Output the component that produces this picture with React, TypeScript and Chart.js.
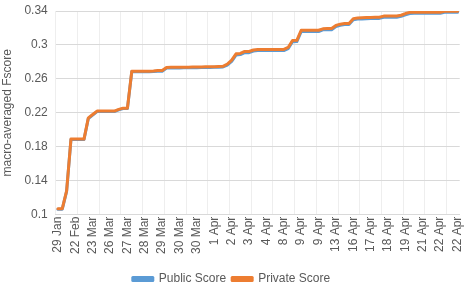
import React, { useEffect, useRef } from "react";
import { Chart, registerables } from "chart.js";

Chart.register(...registerables);

const categories: string[] = [
  "29 Jan", "2 Feb", "10 Feb", "18 Feb", "22 Feb", "5 Mar", "15 Mar", "22 Mar", "23 Mar", "24 Mar",
  "25 Mar", "25 Mar", "26 Mar", "26 Mar", "26 Mar", "27 Mar", "27 Mar", "27 Mar", "28 Mar", "28 Mar",
  "28 Mar", "28 Mar", "29 Mar", "29 Mar", "29 Mar", "29 Mar", "29 Mar", "30 Mar", "30 Mar", "30 Mar",
  "30 Mar", "30 Mar", "30 Mar", "31 Mar", "31 Mar", "1 Apr", "1 Apr", "1 Apr", "2 Apr", "2 Apr",
  "2 Apr", "2 Apr", "3 Apr", "3 Apr", "3 Apr", "3 Apr", "4 Apr", "4 Apr", "4 Apr", "5 Apr",
  "6 Apr", "7 Apr", "8 Apr", "8 Apr", "8 Apr", "9 Apr", "9 Apr", "9 Apr", "9 Apr", "9 Apr",
  "9 Apr", "10 Apr", "11 Apr", "12 Apr", "13 Apr", "14 Apr", "15 Apr", "16 Apr", "16 Apr", "16 Apr",
  "17 Apr", "17 Apr", "17 Apr", "17 Apr", "18 Apr", "18 Apr", "18 Apr", "18 Apr", "19 Apr", "19 Apr",
  "19 Apr", "20 Apr", "20 Apr", "21 Apr", "21 Apr", "21 Apr", "22 Apr", "22 Apr", "22 Apr", "22 Apr",
  "22 Apr", "22 Apr", "22 Apr",
];

const publicScore: number[] = [
  0.1065, 0.1065, 0.1275, 0.1885, 0.1885, 0.1885, 0.1885, 0.2133, 0.2173, 0.2215,
  0.2215, 0.2215, 0.2215, 0.2215, 0.2235, 0.2250, 0.2250, 0.2683, 0.2683, 0.2683,
  0.2683, 0.2683, 0.2686, 0.2690, 0.2690, 0.2727, 0.2728, 0.2728, 0.2729, 0.2730,
  0.2730, 0.2731, 0.2732, 0.2733, 0.2734, 0.2735, 0.2736, 0.2738, 0.2740, 0.2763,
  0.2806, 0.2880, 0.2886, 0.2909, 0.2909, 0.2928, 0.2934, 0.2934, 0.2934, 0.2934,
  0.2934, 0.2934, 0.2934, 0.2957, 0.3038, 0.3040, 0.3158, 0.3158, 0.3158, 0.3158,
  0.3158, 0.3178, 0.3180, 0.3180, 0.3217, 0.3232, 0.3240, 0.3240, 0.3297, 0.3305,
  0.3307, 0.3309, 0.3311, 0.3312, 0.3313, 0.3326, 0.3326, 0.3326, 0.3327, 0.3337,
  0.3356, 0.3371, 0.3373, 0.3373, 0.3373, 0.3373, 0.3373, 0.3373, 0.3373, 0.3385,
  0.3385, 0.3385, 0.3385,
];

const privateScore: number[] = [
  0.1070, 0.1070, 0.1280, 0.1890, 0.1890, 0.1890, 0.1890, 0.2140, 0.2180, 0.2220,
  0.2220, 0.2220, 0.2220, 0.2220, 0.2240, 0.2255, 0.2255, 0.2690, 0.2690, 0.2690,
  0.2690, 0.2690, 0.2693, 0.2698, 0.2698, 0.2735, 0.2736, 0.2736, 0.2737, 0.2738,
  0.2738, 0.2739, 0.2740, 0.2741, 0.2742, 0.2743, 0.2744, 0.2746, 0.2748, 0.2775,
  0.2820, 0.2895, 0.2900, 0.2923, 0.2923, 0.2940, 0.2947, 0.2947, 0.2947, 0.2947,
  0.2947, 0.2947, 0.2947, 0.2970, 0.3052, 0.3054, 0.3173, 0.3173, 0.3173, 0.3173,
  0.3173, 0.3190, 0.3193, 0.3193, 0.3230, 0.3245, 0.3253, 0.3253, 0.3310, 0.3318,
  0.3320, 0.3322, 0.3324, 0.3325, 0.3326, 0.3340, 0.3340, 0.3340, 0.3341, 0.3350,
  0.3370, 0.3384, 0.3386, 0.3386, 0.3386, 0.3386, 0.3386, 0.3386, 0.3386, 0.3398,
  0.3398, 0.3398, 0.3398,
];

const yMin = 0.1;
const yMax = 0.34;
const yStep = 0.04;
const labelEvery = 4;
const gridEvery = 5;

const FONT = "'Liberation Sans', Arial, sans-serif";
const TEXT = "#595959";

const legendShift = {
  id: "legendShift",
  afterLayout(chart: any) {
    if (chart.legend) {
      chart.legend.top += 11;
      chart.legend.bottom += 11;
    }
  },
};

export default function App() {
  const ref = useRef<HTMLCanvasElement | null>(null);

  useEffect(() => {
    if (!ref.current) return;
    const chart = new Chart(ref.current, {
      type: "line",
      plugins: [legendShift],
      data: {
        labels: categories,
        datasets: [
          {
            label: "Public Score",
            data: publicScore,
            borderColor: "#5B9BD5",
            backgroundColor: "#5B9BD5",
            borderWidth: 3,
            pointRadius: 0,
            tension: 0,
            order: 2,
            borderCapStyle: "round",
            borderJoinStyle: "round",
          },
          {
            label: "Private Score",
            data: privateScore,
            borderColor: "#ED7D31",
            backgroundColor: "#ED7D31",
            borderWidth: 3,
            pointRadius: 0,
            tension: 0,
            order: 1,
            borderCapStyle: "round",
            borderJoinStyle: "round",
          },
        ],
      },
      options: {
        animation: false,
        responsive: true,
        maintainAspectRatio: false,
        layout: { padding: { left: 0, right: 11, top: 11, bottom: 0 } },
        plugins: {
          tooltip: { enabled: false },
          legend: {
            position: "bottom",
            labels: {
              boxWidth: 20,
              boxHeight: 3,
              color: TEXT,
              font: { family: FONT, size: 12 },
              padding: 6,
              sort: (a: any, b: any) => a.datasetIndex - b.datasetIndex,
            },
          },
        },
        scales: {
          x: {
            type: "category",
            offset: true,
            grid: {
              offset: true,
              drawTicks: false,
              color: (ctx: any) => (ctx.index % gridEvery === 0 ? "#EEEEEE" : "rgba(0,0,0,0)"),
            },
            border: { display: true, color: "#D9D9D9", width: 1 },
            ticks: {
              autoSkip: false,
              minRotation: 90,
              maxRotation: 90,
              padding: 2,
              color: TEXT,
              font: { family: FONT, size: 12 },
              callback: function (this: any, value: any, index: number) {
                return index % labelEvery === 0 ? categories[index] : "";
              },
            },
          },
          y: {
            min: yMin,
            max: yMax,
            grid: { color: "#D9D9D9", drawTicks: false },
            border: { display: false },
            afterFit: (scale: any) => {
              scale.paddingTop = 0;
              scale.paddingBottom = 0;
            },
            ticks: {
              stepSize: yStep,
              padding: 8,
              color: TEXT,
              font: { family: FONT, size: 12 },
              callback: (v: any) => String(parseFloat(Number(v).toFixed(2))),
            },
            title: {
              display: true,
              text: "macro-averaged Fscore",
              color: TEXT,
              font: { family: FONT, size: 12 },
              padding: { top: 0, bottom: 2 },
            },
          },
        },
      },
    });
    return () => chart.destroy();
  }, []);

  return (
    <div style={{ position: "fixed", left: 0, top: 0, width: 474, height: 284, background: "#fff" }}>
      <canvas ref={ref} />
    </div>
  );
}
